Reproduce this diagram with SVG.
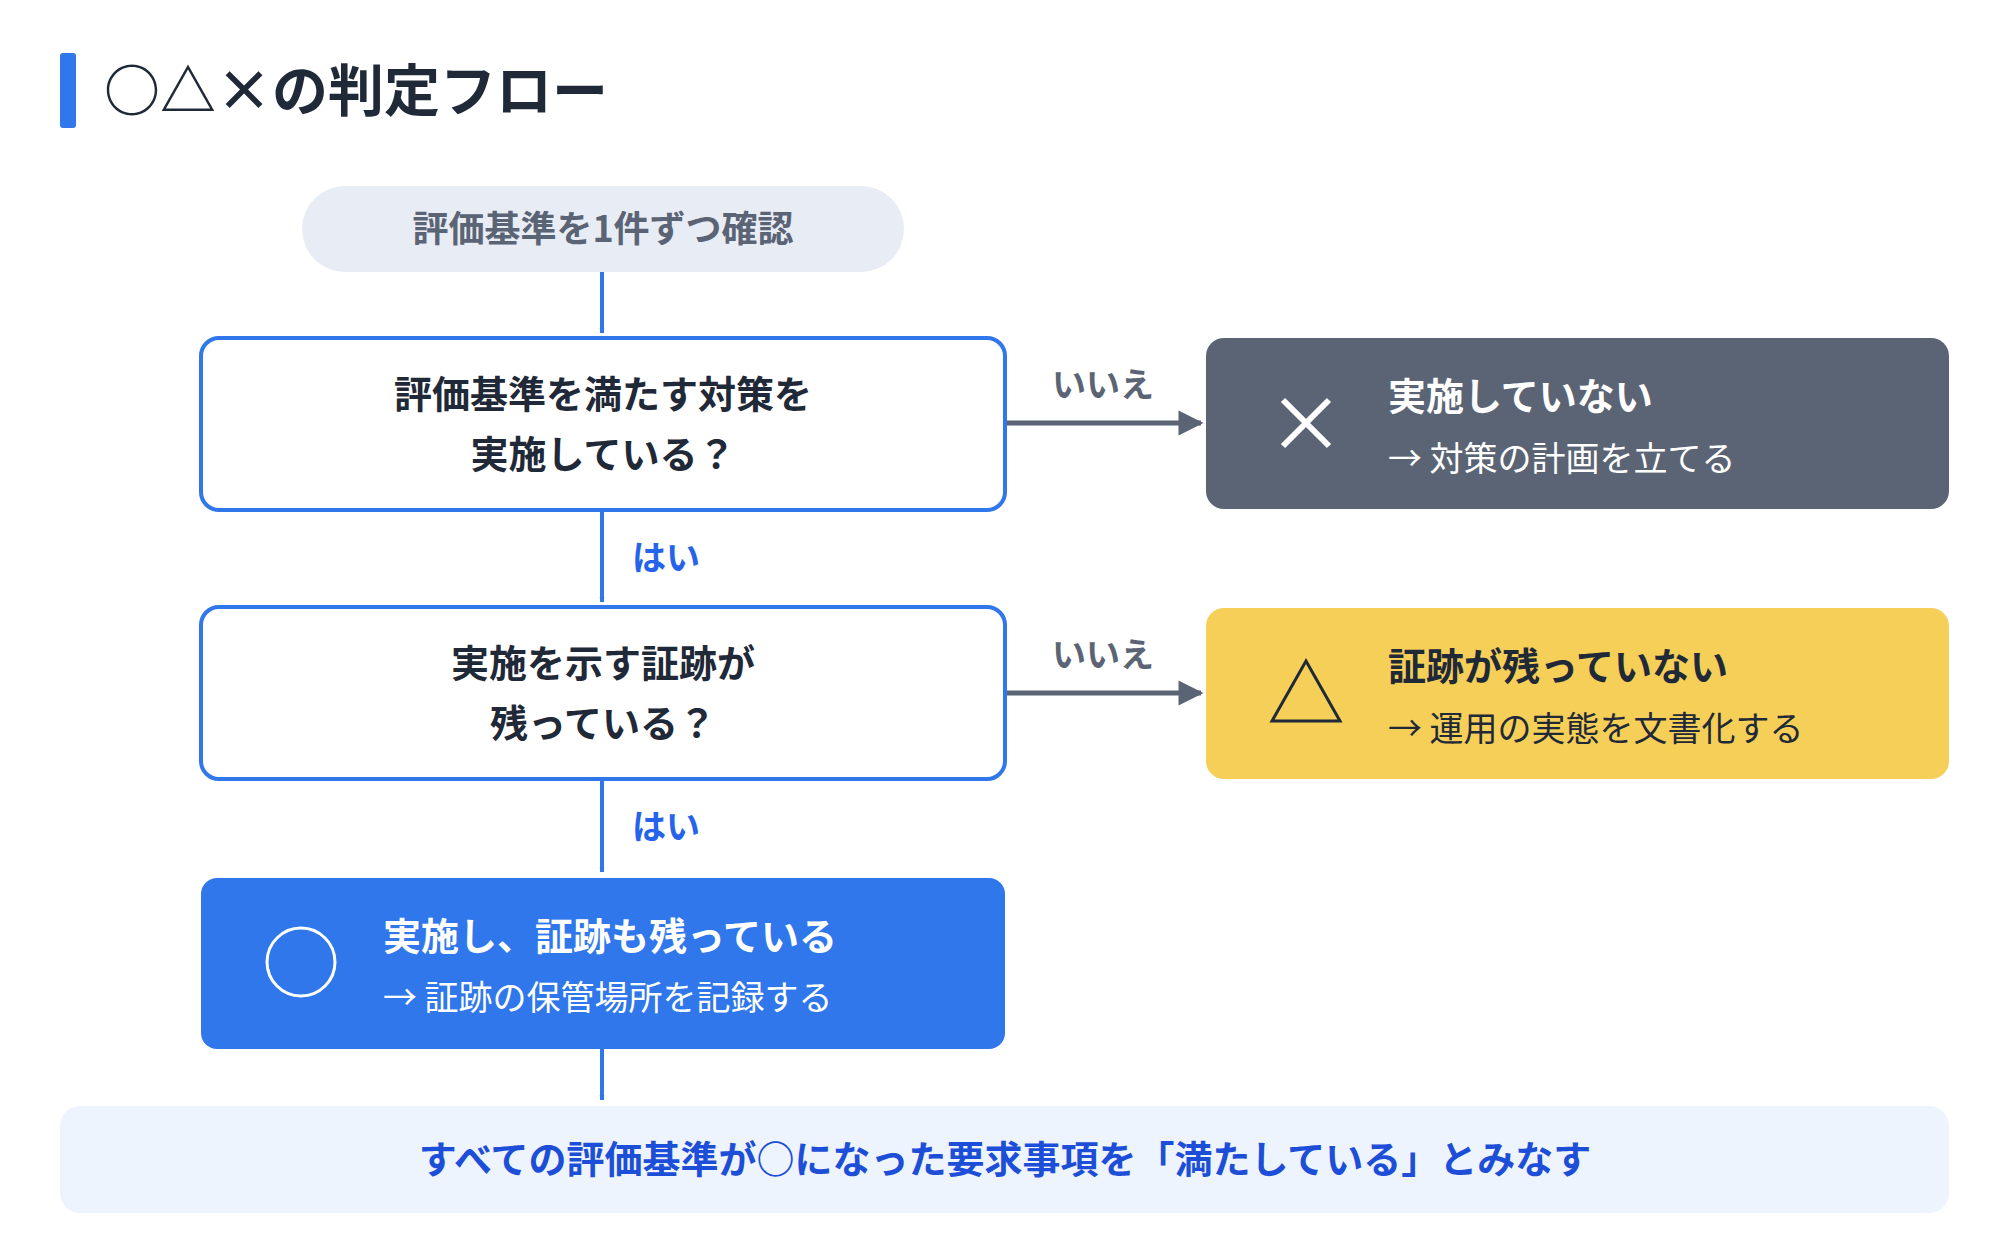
<svg xmlns="http://www.w3.org/2000/svg" width="2000" height="1260" viewBox="0 0 2000 1260">
<style>
text{font-family:"Noto Sans CJK JP","Noto Sans",sans-serif}
.q{font-size:38px;font-weight:700;fill:#1f2937;text-anchor:middle}
.yes{font-size:34px;font-weight:700;fill:#2563eb}
.no{font-size:34px;font-weight:700;fill:#5b6474;text-anchor:middle}
.t{font-size:38px;font-weight:700}
.s{font-size:34px}
</style>
<defs>
<marker id="ab" viewBox="0 0 10 10" refX="9" refY="5" markerWidth="5" markerHeight="5" orient="auto" markerUnits="userSpaceOnUse" style="overflow:visible"><path d="M0,0L10,5L0,10z" fill="#2f77ea"/></marker>
<marker id="ag" viewBox="0 0 10 10" refX="9" refY="5" markerWidth="5" markerHeight="5" orient="auto" style="overflow:visible"><path d="M0,0L10,5L0,10z" fill="#5b6474"/></marker>
</defs>
<rect width="2000" height="1260" fill="#fff"/>
<g id="title">
<rect x="60" y="53" width="16" height="75" rx="3" fill="#2f77ea"/>
<text x="104" y="111" font-size="56" font-weight="700" fill="#1f2937">○△×の判定フロー</text>
</g>
<g id="connectors" fill="none" stroke-width="4">
<line x1="602" y1="272" x2="602" y2="333" stroke="#2f77ea" marker-end="url(#ab)"/>
<line x1="602" y1="510" x2="602" y2="602" stroke="#2f77ea" marker-end="url(#ab)"/>
<line x1="602" y1="780" x2="602" y2="872" stroke="#2f77ea" marker-end="url(#ab)"/>
<line x1="602" y1="1049" x2="602" y2="1100" stroke="#2f77ea" marker-end="url(#ab)"/>
<line x1="1005" y1="423" x2="1201" y2="423" stroke="#5b6474" stroke-width="5" marker-end="url(#ag)"/>
<line x1="1005" y1="693" x2="1201" y2="693" stroke="#5b6474" stroke-width="5" marker-end="url(#ag)"/>
</g>
<g id="labels">
<text class="yes" x="632" y="570">はい</text>
<text class="yes" x="632" y="839">はい</text>
<text class="no" x="1103" y="397">いいえ</text>
<text class="no" x="1103" y="667">いいえ</text>
</g>
<g id="start">
<rect x="302" y="186" width="602" height="86" rx="43" fill="#e8edf5"/>
<text x="603" y="242" font-size="36" font-weight="700" fill="#5b6475" text-anchor="middle">評価基準を1件ずつ確認</text>
</g>
<g id="q1">
<rect x="201" y="338" width="804" height="172" rx="18" fill="#fff" stroke="#2f77ea" stroke-width="4"/>
<text class="q" x="603" y="408">評価基準を満たす対策を</text>
<text class="q" x="603" y="468">実施している？</text>
</g>
<g id="q2">
<rect x="201" y="607" width="804" height="172" rx="18" fill="#fff" stroke="#2f77ea" stroke-width="4"/>
<text class="q" x="603" y="677">実施を示す証跡が</text>
<text class="q" x="603" y="737">残っている？</text>
</g>
<g id="ok">
<rect x="201" y="878" width="804" height="171" rx="16" fill="#2f77ea"/>
<circle cx="301" cy="962" r="34" fill="none" stroke="#fff" stroke-width="3"/>
<text class="t" x="383" y="950" fill="#fff">実施し、証跡も残っている</text>
<text class="s" x="383" y="1010" fill="#fff">→ 証跡の保管場所を記録する</text>
</g>
<g id="ng">
<rect x="1206" y="338" width="743" height="171" rx="18" fill="#5b6474"/>
<path d="M1283,400L1329,446M1329,400L1283,446" stroke="#fff" stroke-width="6"/>
<text class="t" x="1388" y="410" fill="#fff">実施していない</text>
<text class="s" x="1388" y="471" fill="#fff">→ 対策の計画を立てる</text>
</g>
<g id="partial">
<rect x="1206" y="608" width="743" height="171" rx="18" fill="#f5cf57"/>
<path d="M1306,661L1340,721L1272,721Z" fill="none" stroke="#1f2937" stroke-width="3"/>
<text class="t" x="1388" y="680" fill="#1f2937">証跡が残っていない</text>
<text class="s" x="1388" y="741" fill="#1f2937">→ 運用の実態を文書化する</text>
</g>
<g id="result">
<rect x="60" y="1106" width="1889" height="107" rx="20" fill="#eef4fd"/>
<text x="1005" y="1173" font-size="38" font-weight="700" fill="#1d4ed8" text-anchor="middle">すべての評価基準が○になった要求事項を「満たしている」とみなす</text>
</g>
</svg>
